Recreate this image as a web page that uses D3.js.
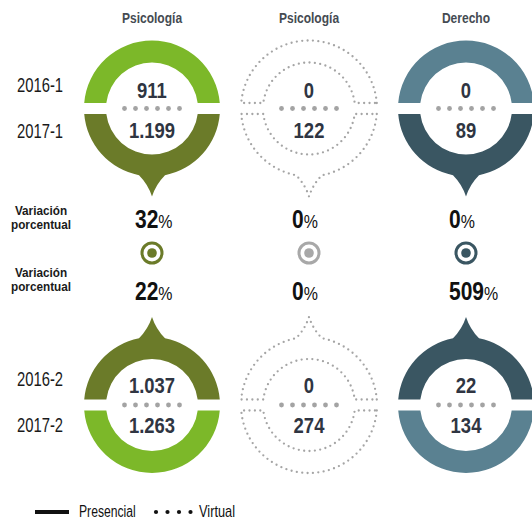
<!DOCTYPE html>
<html>
<head>
<meta charset="utf-8">
<script src="https://cdn.jsdelivr.net/npm/d3@7"></script>
<style>
  body { margin: 0; background: #fff; }
  svg text { font-family: "Liberation Sans", Arial, sans-serif; }
</style>
</head>
<body>
<div id="chart"></div>
<script>
// data
const programs = ["Psicología", "Psicología", "Derecho"];
const modality = ["Presencial", "Virtual", "Presencial"];
const periodsFirst = ["2016-1", "2017-1"];
const periodsSecond = ["2016-2", "2017-2"];
const first2016 = [911, 0, 0];
const first2017 = [1199, 122, 89];
const second2016 = [1037, 0, 22];
const second2017 = [1263, 274, 134];
const variationFirst = [32, 0, 0];
const variationSecond = [22, 0, 509];
const legendLabels = ["Presencial", "Virtual"];

// styles
const lightColor = ["#7cb829", "#a5a5a5", "#5a8191"];
const darkColor = ["#6b7b29", "#a5a5a5", "#3a5662"];
const iconColor = ["#6b7b29", "#a8a8a8", "#3a5662"];

let plotWidth = 532;
let plotHeight = 520;

let svg = d3.select("#chart")
    .append("svg")
    .attr("width", plotWidth)
    .attr("height", plotHeight);

let fmt = d3.formatLocale({decimal: ",", thousands: ".", grouping: [3], currency: ["$", ""]}).format(",d");

let x = d3.scalePoint()
    .domain(d3.range(programs.length))
    .range([152, 466]);

// condensed look: squeeze text horizontally around its anchor point
function place(sel, fx, fy, s) {
    return sel.attr("transform", (d, i) => `translate(${typeof fx === "function" ? fx(d, i) : fx}, ${typeof fy === "function" ? fy(d, i) : fy}) scale(${s},1)`);
}

let R = 68, r = 46, g = 5.5;
let tipD = 88, halfBase = 13;

// half ring below the gap (y > g); mirrored for the top half
function halfRing(pointer) {
    let p = d3.path();
    let xo = Math.sqrt(R * R - g * g), dO = Math.asin(g / R);
    let xi = Math.sqrt(r * r - g * g), dI = Math.asin(g / r);
    let a = Math.asin(halfBase / R);
    p.moveTo(xo, g);
    if (pointer) {
        p.arc(0, 0, R, dO, Math.PI / 2 - a);
        p.quadraticCurveTo(4, R * Math.cos(a) + 9, 0, tipD);
        p.quadraticCurveTo(-4, R * Math.cos(a) + 9, -halfBase, R * Math.cos(a));
        p.arc(0, 0, R, Math.PI / 2 + a, Math.PI - dO);
    } else {
        p.arc(0, 0, R, dO, Math.PI - dO);
    }
    p.lineTo(-xi, g);
    p.arc(0, 0, r, Math.PI - dI, dI, true);
    p.closePath();
    return p.toString();
}

function styleShape(sel, i, color) {
    if (modality[i] === "Virtual") {
        sel.attr("fill", "none")
            .attr("stroke", color)
            .attr("stroke-width", 2.3)
            .attr("stroke-linecap", "round")
            .attr("stroke-dasharray", "0 5.4");
    } else {
        sel.attr("fill", color);
    }
}

let rings = [
    {cy: 108.5, top: first2016, bottom: first2017, labels: periodsFirst, topLight: true, off: [-10.5, 29.5], lab: [92, 138]},
    {cy: 405, top: second2016, bottom: second2017, labels: periodsSecond, topLight: false, off: [-12, 27.5], lab: [386, 432]}
];

rings.forEach(function(ring) {
    let grp = svg.selectAll(null)
        .data(programs)
        .enter()
        .append("g")
        .attr("transform", (d, i) => `translate(${x(i)}, ${ring.cy})`);

    // top half
    grp.append("path")
        .attr("d", d => halfRing(!ring.topLight))
        .attr("transform", "scale(1,-1)")
        .each(function(d, i) { styleShape(d3.select(this), i, ring.topLight ? lightColor[i] : darkColor[i]); });

    // bottom half
    grp.append("path")
        .attr("d", d => halfRing(ring.topLight))
        .each(function(d, i) { styleShape(d3.select(this), i, ring.topLight ? darkColor[i] : lightColor[i]); });

    // separator dots
    grp.selectAll("circle.sep")
        .data(d3.range(6))
        .enter()
        .append("circle")
        .attr("cx", k => -27.5 + k * 11)
        .attr("cy", 0)
        .attr("r", 2.4)
        .attr("fill", "#a3a3a3");

    place(grp.append("text"), 0, ring.off[0], 0.82)
        .text((d, i) => fmt(ring.top[i]))
        .attr("text-anchor", "middle")
        .attr("font-size", "22.5px")
        .attr("font-weight", "bold")
        .attr("fill", "#2f3542");

    place(grp.append("text"), 0, ring.off[1], 0.82)
        .text((d, i) => fmt(ring.bottom[i]))
        .attr("text-anchor", "middle")
        .attr("font-size", "22.5px")
        .attr("font-weight", "bold")
        .attr("fill", "#2f3542");

    place(svg.selectAll(null)
        .data(ring.labels)
        .enter()
        .append("text"), 17, (d, i) => ring.lab[i], 0.76)
        .text(d => d)
        .attr("font-size", "19.5px")
        .attr("fill", "#1a1a1a");
});

// column headers
place(svg.selectAll("text.header")
    .data(programs)
    .enter()
    .append("text"), (d, i) => x(i), 23, 0.86)
    .attr("class", "header")
    .text(d => d)
    .attr("text-anchor", "middle")
    .attr("font-size", "14px")
    .attr("font-weight", "bold")
    .attr("fill", "#454b52");

// variation rows
[[variationFirst, 228, [215, 229]], [variationSecond, 300, [277, 291]]].forEach(function(row) {
    let t = place(svg.selectAll(null)
        .data(row[0])
        .enter()
        .append("text"), (d, i) => x(i) - 17, row[1], 0.84)
        .attr("fill", "#111");
    t.append("tspan")
        .text(d => d)
        .attr("font-size", "25px")
        .attr("font-weight", "bold");
    t.append("tspan")
        .text("%")
        .attr("font-size", "19px");

    ["Variación", "porcentual"].forEach(function(w, k) {
        place(svg.append("text"), 41, row[2][k], 0.94)
            .text(w)
            .attr("text-anchor", "middle")
            .attr("font-size", "12.5px")
            .attr("font-weight", "bold")
            .attr("fill", "#1a1a1a");
    });
});

// icons
let icons = svg.selectAll("g.icon")
    .data(programs)
    .enter()
    .append("g")
    .attr("transform", (d, i) => `translate(${x(i)}, 253)`);
icons.append("circle")
    .attr("r", 10)
    .attr("fill", "none")
    .attr("stroke", (d, i) => iconColor[i])
    .attr("stroke-width", 3);
icons.append("circle")
    .attr("r", 4.8)
    .attr("fill", (d, i) => iconColor[i]);

// legend
let legend = svg.append("g");
legend.append("line")
    .attr("x1", 35).attr("x2", 69)
    .attr("y1", 512).attr("y2", 512)
    .attr("stroke", "#111")
    .attr("stroke-width", 4);
place(legend.append("text"), 79, 517, 0.76)
    .text(legendLabels[0])
    .attr("font-size", "16px")
    .attr("fill", "#111");
legend.selectAll("circle")
    .data(d3.range(4))
    .enter()
    .append("circle")
    .attr("cx", k => 156 + k * 11.5)
    .attr("cy", 512)
    .attr("r", 2.1)
    .attr("fill", "#111");
place(legend.append("text"), 199, 517, 0.8)
    .text(legendLabels[1])
    .attr("font-size", "16px")
    .attr("fill", "#111");
</script>
</body>
</html>
